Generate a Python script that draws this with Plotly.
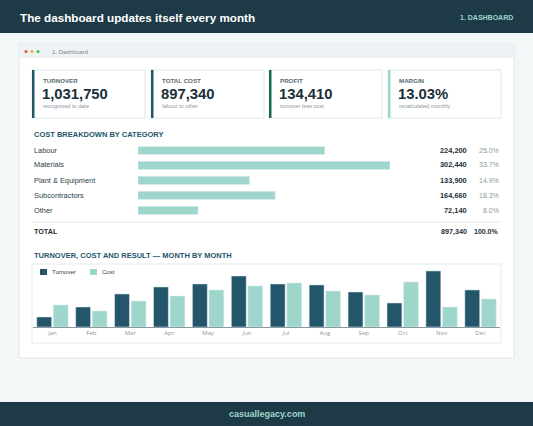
import plotly.graph_objects as go

W, H = 533, 426
kpi_labels = ["TURNOVER", "TOTAL COST", "PROFIT", "MARGIN"]
kpi_values = ["1,031,750", "897,340", "134,410", "13.03%"]
kpi_subs = ["recognised to date", "labour to other", "turnover less cost", "recalculated monthly"]
kpi_colors = ["#24566b", "#24566b", "#1d6b46", "#9fd6cc"]

categories = ["Labour", "Materials", "Plant & Equipment", "Subcontractors", "Other"]
cat_values = [224200, 302440, 133900, 164660, 72140]
cat_pct = ["25.0%", "33.7%", "14.9%", "18.3%", "8.0%"]
total_value = "897,340"
total_pct = "100.0%"

months = ["Jan", "Feb", "Mar", "Apr", "May", "Jun", "Jul", "Aug", "Sep", "Oct", "Nov", "Dec"]
turnover = [23800, 47500, 78400, 95000, 102100, 121100, 102100, 99800, 83100, 57000, 133000, 87900]
cost = [52300, 38000, 61800, 73600, 87900, 97400, 104500, 85500, 76000, 106900, 47500, 66500]
series_names = ["Turnover", "Cost"]
series_colors = ["#24566b", "#9fd6cc"]

def X(x): return x / W
def Y(y): return 1 - y / H

DARK = "#1d3a46"
fig = go.Figure()
shapes, ann = [], []

def rect(x0, y0, x1, y1, fill, line=None, lw=0):
    shapes.append(dict(type="rect", xref="paper", yref="paper", x0=X(x0), x1=X(x1), y0=Y(y1), y1=Y(y0),
                       fillcolor=fill, line=dict(color=line or fill, width=lw), layer="below"))

def text(x, y, s, size, color, bold=False, xanchor="left"):
    ann.append(dict(xref="paper", yref="paper", x=X(x), y=Y(y), text=f"<b>{s}</b>" if bold else s,
                    showarrow=False, xanchor=xanchor, yanchor="middle",
                    font=dict(size=size, color=color, family="Liberation Sans, Arial")))

rect(0, 0, W, H, "#f4f7f8")
rect(0, 0, W, 33, DARK)
text(18, 17, "The dashboard updates itself every month", 11.7, "white", True)
text(515, 17, "1. DASHBOARD", 7, "#9fd6cc", True, "right")
rect(0, 402, W, H, DARK)
text(W / 2, 414, "casuallegacy.com", 9, "#9fd6cc", True, "center")

rect(19, 44, 514, 358, "white", "#dfe6e9", 1)
rect(19.5, 44.5, 513.5, 58, "#eef2f4")
for i, c in enumerate(["#e5534b", "#f0b429", "#3fb950"]):
    shapes.append(dict(type="circle", xref="paper", yref="paper", x0=X(24.5 + 6 * i), x1=X(27.5 + 6 * i),
                       y0=Y(53), y1=Y(50), fillcolor=c, line=dict(width=0)))
text(50, 52, "1. Dashboard", 6, "#7a8a92")

xs = [32, 151, 269, 388]
for i in range(4):
    x0 = xs[i]
    rect(x0, 70, x0 + 113, 118, "white", "#dfe6e9", 1)
    rect(x0, 70, x0 + 2.5, 118, kpi_colors[i])
    text(x0 + 9, 80, kpi_labels[i], 6.2, "#5a6a72", True)
    text(x0 + 8, 94, kpi_values[i], 14.8, "#1b2f3a", True)
    text(x0 + 9, 106, kpi_subs[i], 5.6, "#8a989f")

text(32, 134, "COST BREAKDOWN BY CATEGORY", 7.5, "#24566b", True)
for i, c in enumerate(categories):
    y = 150 + 15 * i
    text(32, y, c, 7.4, "#2c3e48")
    text(469, y, f"{cat_values[i]:,}", 7.4, "#1b2f3a", True, "right")
    text(501, y, cat_pct[i], 7, "#8a989f", False, "right")
shapes.append(dict(type="line", xref="paper", yref="paper", x0=X(32), x1=X(501), y0=Y(222), y1=Y(222),
                   line=dict(color="#e2e8ea", width=1)))
text(32, 231, "TOTAL", 7.2, "#1b2f3a", True)
text(469, 231, total_value, 7.2, "#1b2f3a", True, "right")
text(501, 231, total_pct, 7, "#1b2f3a", True, "right")

fig.add_trace(go.Bar(y=categories, x=cat_values, orientation="h", marker_color="#9fd6cc",
                     xaxis="x", yaxis="y", showlegend=False, width=0.55))

text(32, 255, "TURNOVER, COST AND RESULT — MONTH BY MONTH", 7.5, "#24566b", True)
rect(32, 264, 501, 343, "white", "#e4eaec", 1)
for i, (n, c) in enumerate(zip(series_names, series_colors)):
    lx = 40 + 50 * i
    shapes.append(dict(type="rect", xref="paper", yref="paper", x0=X(lx), x1=X(lx + 7), y0=Y(275), y1=Y(269),
                       fillcolor=c, line=dict(width=0)))
    text(lx + 10, 272, n, 6, "#2c3e48")
for n, vals, c in zip(series_names, [turnover, cost], series_colors):
    fig.add_trace(go.Bar(x=months, y=vals, name=n, marker_color=c, xaxis="x2", yaxis="y2", showlegend=False))

fig.update_layout(
    width=W, height=H, margin=dict(l=0, r=0, t=0, b=0), paper_bgcolor="#f4f7f8", plot_bgcolor="rgba(0,0,0,0)",
    shapes=shapes, annotations=ann, bargap=0.15, bargroupgap=0.1,
    xaxis=dict(domain=[X(138), X(390)], range=[0, 302440], visible=False, fixedrange=True),
    yaxis=dict(domain=[Y(218), Y(143)], categoryorder="array", categoryarray=categories[::-1],
               visible=False, anchor="x"),
    xaxis2=dict(domain=[X(33), X(500)], anchor="y2", showline=True, linecolor="#8a989f", linewidth=1,
                tickfont=dict(size=6, color="#8a989f"), ticks=""),
    yaxis2=dict(domain=[Y(327), Y(268)], range=[0, 140000], visible=False, anchor="x2"),
)
fig.write_html("out.html", config={"displayModeBar": False},
               post_script="document.body.style.margin='0';document.body.style.overflow='hidden';")
